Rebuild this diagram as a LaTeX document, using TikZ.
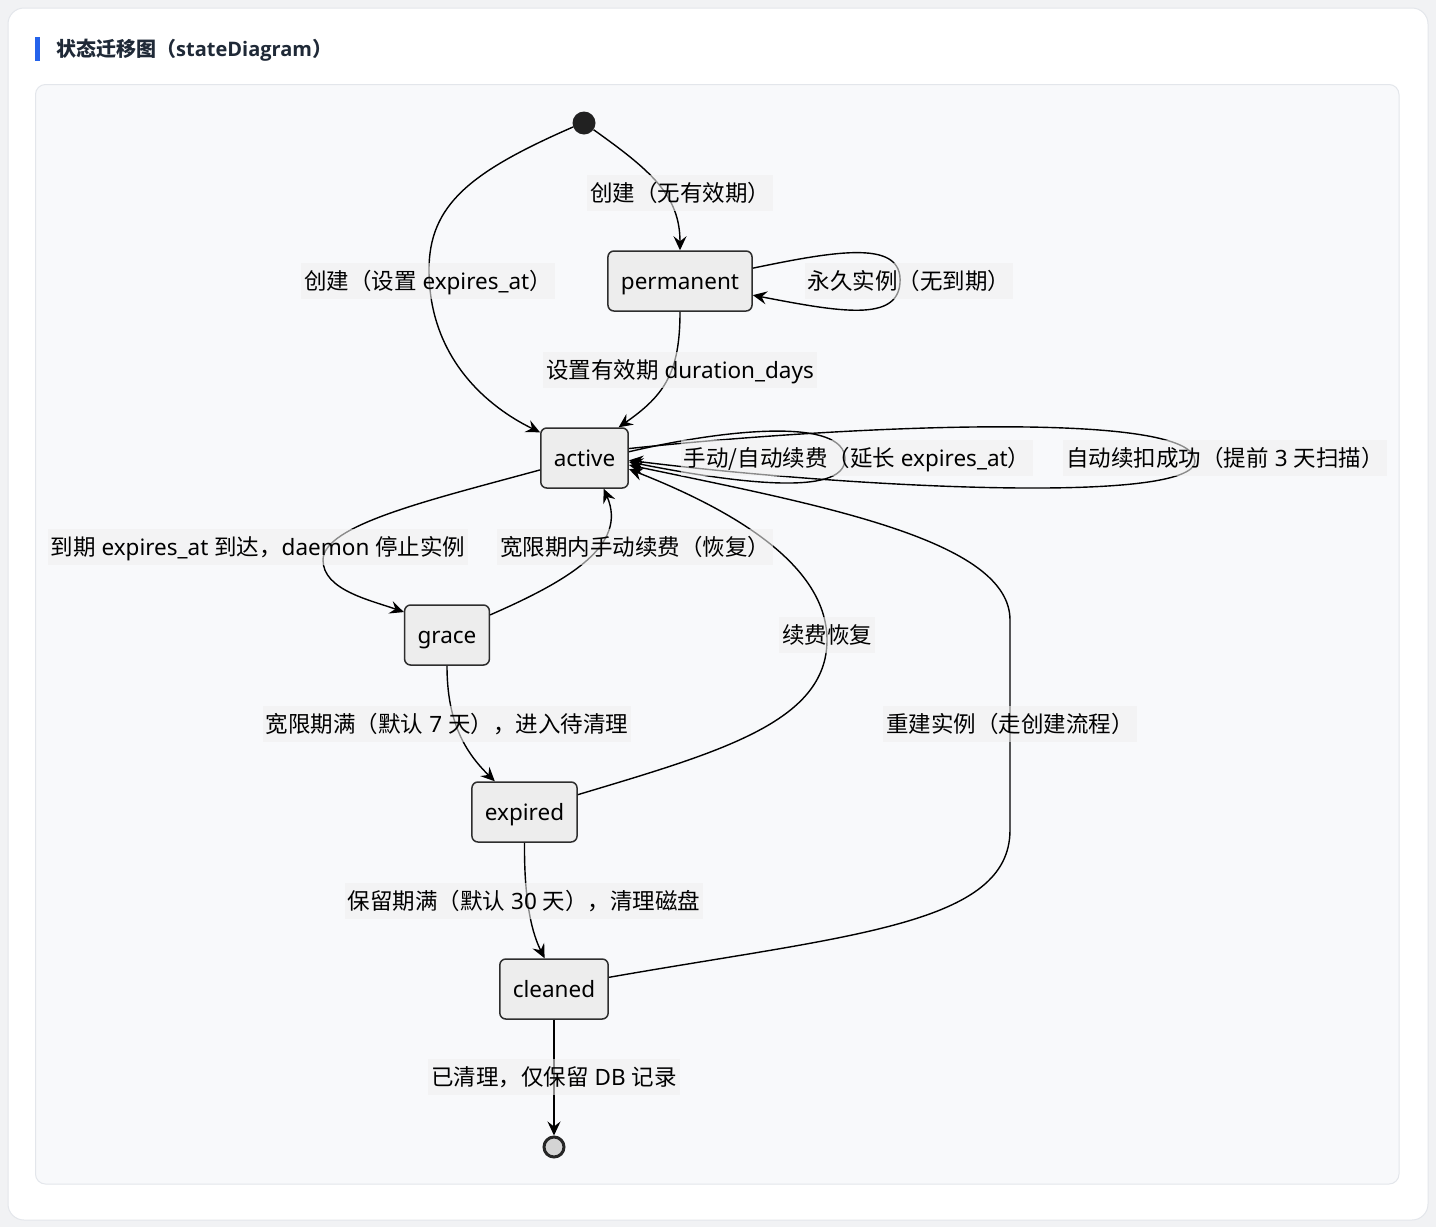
\documentclass[tikz,border=0pt]{standalone}
\usepackage{fontspec}
\setmainfont{Noto Sans}
\newfontfamily\cjk{Noto Sans CJK SC}
\newfontfamily\titlelatin{Open Sans}
\usetikzlibrary{arrows.meta}
\definecolor{pagebg}{HTML}{F1F2F4}
\definecolor{cardline}{HTML}{E3E6EB}
\definecolor{panelbg}{HTML}{F8F9FB}
\definecolor{titleblue}{HTML}{2563EB}
\definecolor{titletext}{HTML}{1F2937}
\definecolor{statefill}{HTML}{EDEDED}
\definecolor{stateline}{HTML}{2E2E2E}
\definecolor{lblfill}{HTML}{F0F0F0}
\newcommand\zh[1]{{\cjk #1}}
\tikzset{
  statebox/.style={draw=stateline, fill=statefill, line width=1.5pt, rounded corners=6pt,
    minimum height=60pt, inner xsep=13pt, inner ysep=0pt, text height=18.5pt, text depth=1.5pt,
    font=\fontsize{22.5}{22}\selectfont},
  lbl/.style={fill=lblfill, fill opacity=0.58, text opacity=1, inner xsep=3pt, inner ysep=0pt,
    minimum height=36pt, text height=18.5pt, text depth=1.5pt, font=\fontsize{22.5}{22}\selectfont},
  edge/.style={line width=1.4pt, draw=black, -{Stealth[length=14pt,width=13pt,inset=5pt]}},
}
\begin{document}
\begin{tikzpicture}[x=1pt,y=-1pt]
\useasboundingbox (0,0) rectangle (1436,1227);
\fill[pagebg] (0,0) rectangle (1436,1227);
\draw[cardline, fill=white, line width=1pt, rounded corners=16pt] (8,8) rectangle (1428,1220);
\fill[titleblue] (35,37) rectangle (39.5,61);
\node[anchor=west, inner sep=0pt, text=titletext, font=\fontsize{20}{20}\selectfont\bfseries] (title) at (56,50) {\zh{状态迁移图（}{\titlelatin\bfseries stateDiagram}\zh{）}};
\draw[cardline, fill=panelbg, line width=1pt, rounded corners=10pt] (35.5,84.5) rectangle (1399,1184);

% states
\node[circle, fill=black!87, minimum size=23pt, inner sep=0pt] (start) at (584,123) {};
\node[statebox] (permanent) at (680,281) {permanent};
\node[statebox] (active) at (584.5,458) {active};
\node[statebox] (grace) at (447,635) {grace};
\node[statebox] (expired) at (524.5,812) {expired};
\node[statebox] (cleaned) at (554,989) {cleaned};
\node[circle, draw=black!85, line width=3pt, fill=black!17, minimum size=20pt, inner sep=0pt] (end) at (554,1147) {};

% edges
\draw[edge] (start.-35) .. controls (650,170) and (680,195) .. (permanent.north);
\draw[edge] (start.200) .. controls (470,172) and (429,205) .. (429,270) .. controls (429,360) and (490,408) .. (active.150);
\draw[edge] (permanent.10) .. controls (840,250) and (903,240) .. (900,283) .. controls (897,322) and (840,312) .. (permanent.-11);
\draw[edge] (permanent.south) .. controls (680,372) and (665,395) .. (active.42);
\draw[edge] (active.8) .. controls (730,428) and (845,418) .. (845,459) .. controls (845,498) and (730,482) .. (active.-5);
\draw[edge] (active.12) .. controls (850,425) and (1195,410) .. (1195,461) .. controls (1195,505) and (850,488) .. (active.-3);
\draw[edge] (active.195) .. controls (430,500) and (323,525) .. (323,560) .. controls (323,590) and (370,600) .. (grace.152);
\draw[edge] (grace.25) .. controls (570,580) and (628,545) .. (active.-58);
\draw[edge] (grace.south) .. controls (447,722) and (465,752) .. (expired.134);
\draw[edge] (expired.18) .. controls (720,752) and (827,722) .. (827,640) .. controls (827,560) and (720,505) .. (active.-14);
\draw[edge] (cleaned.12) .. controls (850,935) and (1010,925) .. (1010,830) -- (1010,620) .. controls (1010,540) and (820,505) .. (active.-9);
\draw[edge] (expired.south) .. controls (524,905) and (533,935) .. (cleaned.107);
\draw[edge] (cleaned.south) -- (end.north);

% labels
\node[lbl] (l1) at (680,193) {\zh{创建（无有效期）}};
\node[lbl] (l2) at (428,281) {\zh{创建（设置} expires\_at\zh{）}};
\node[lbl] (l3) at (909,281) {\zh{永久实例（无到期）}};
\node[lbl] (l4) at (680,370) {\zh{设置有效期} duration\_days};
\node[lbl] (l5) at (857,458) {\zh{手动/自动续费（延长} expires\_at\zh{）}};
\node[lbl] (l6) at (1225,458) {\zh{自动续扣成功（提前} 3 \zh{天扫描）}};
\node[lbl] (l7) at (258,547) {\zh{到期} expires\_at \zh{到达，}daemon \zh{停止实例}};
\node[lbl] (l8) at (635,547) {\zh{宽限期内手动续费（恢复）}};
\node[lbl] (l9) at (827,635) {\zh{续费恢复}};
\node[lbl] (l10) at (447,724) {\zh{宽限期满（默认} 7 \zh{天），进入待清理}};
\node[lbl] (l11) at (1010,724) {\zh{重建实例（走创建流程）}};
\node[lbl] (l12) at (524,901) {\zh{保留期满（默认} 30 \zh{天），清理磁盘}};
\node[lbl] (l13) at (554,1077) {\zh{已清理，仅保留} DB \zh{记录}};
\end{tikzpicture}
\end{document}
